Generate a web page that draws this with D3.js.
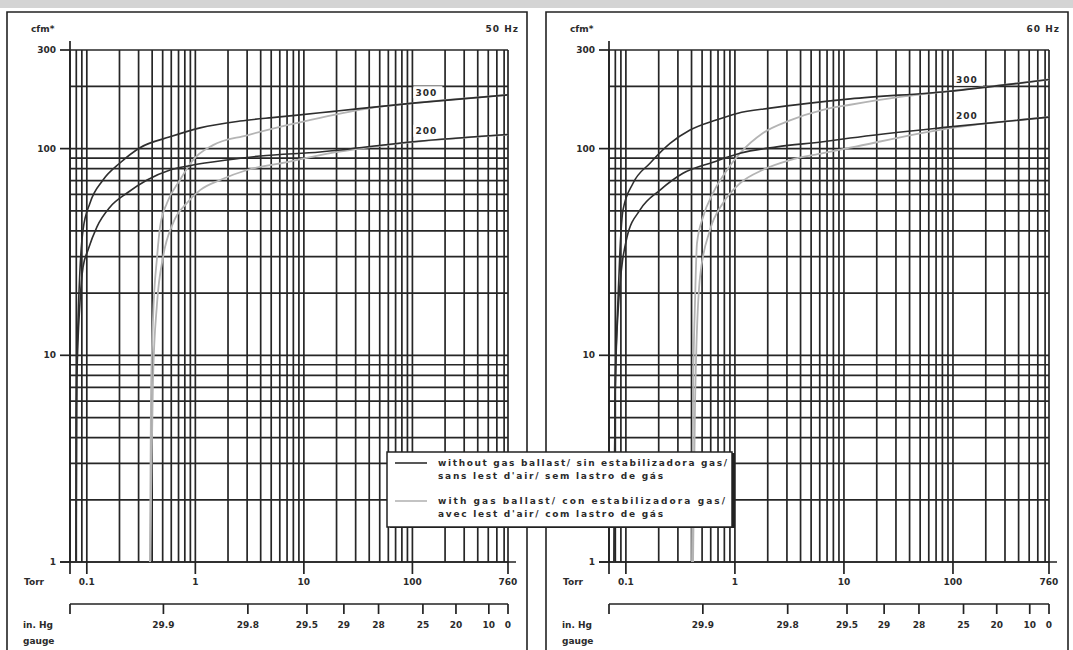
<!DOCTYPE html>
<html>
<head>
<meta charset="utf-8">
<script src="https://cdn.jsdelivr.net/npm/d3@7"></script>
<style>
    body { margin: 0; background: #fff; }
    svg text { font-family: "DejaVu Sans", sans-serif; font-weight: bold; font-size: 9px; fill: #2b2b2b; }
</style>
</head>
<body>
<div id="chart"></div>
<script>
// pumping speed curves, 50 Hz and 60 Hz
//=======================================

// axis ticks / labels
var torrTicks = [0.1, 1, 10, 100, 760];
var torrTickLabels = ["0.1", "1", "10", "100", "760"];
var cfmTicks = [1, 10, 100, 300];
var cfmTickLabels = ["1", "10", "100", "300"];
var gaugeTicks = [29.9, 29.8, 29.5, 29, 28, 25, 20, 10, 0];
var gaugeTickLabels = ["29.9", "29.8", "29.5", "29", "28", "25", "20", "10", "0"];

// grid lines
var torrGrid = [0.07, 0.08, 0.09, 0.1, 0.2, 0.3, 0.4, 0.5, 0.6, 0.7, 0.8, 0.9,
    1, 2, 3, 4, 5, 6, 7, 8, 9, 10, 20, 30, 40, 50, 60, 70, 80, 90,
    100, 200, 300, 400, 500, 600, 700, 760];
var cfmGrid = [1, 2, 3, 4, 5, 6, 7, 8, 9, 10, 20, 30, 40, 50, 60, 70, 80, 90, 100, 200, 300];

var modelNames = ["300", "200"];
var legendText = [
    ["without gas ballast/ sin estabilizadora gas/", "sans lest d'air/ sem lastro de gás"],
    ["with gas ballast/ con estabilizadora gas/", "avec lest d'air/ com lastro de gás"]
];

// [Torr, cfm]
var noBallast300_50 = [[0.0795, 1], [0.0797, 5], [0.083, 14.8], [0.0865, 25.9], [0.0923, 40.4], [0.107, 54.6],
    [0.141, 70.5], [0.202, 85.2], [0.309, 101], [0.585, 114], [1.105, 126], [2.58, 136], [5.66, 142],
    [14.1, 149], [20.2, 152], [101.5, 166], [760, 182]];
var noBallast200_50 = [[0.0795, 1], [0.081, 7.6], [0.0865, 18], [0.0923, 26.7], [0.1026, 32.3], [0.124, 41.8],
    [0.164, 52.2], [0.235, 61], [0.359, 70.5], [0.585, 78.8], [0.952, 83.3], [1.96, 88.1], [3.95, 92.1],
    [14.1, 96.3], [101.5, 108], [760, 117]];
var ballast300_50 = [[0.382, 1], [0.39, 6], [0.407, 14.8], [0.444, 29.9], [0.473, 41.8], [0.548, 54.6],
    [0.722, 70.5], [0.952, 88.1], [1.456, 104], [3.0, 116], [7.0, 130], [14.1, 141], [45, 158.5],
    [101.5, 166], [760, 182]];
var ballast200_50 = [[0.382, 1], [0.407, 7.6], [0.444, 17.9], [0.504, 29.9], [0.623, 43.6], [0.838, 54.6],
    [1.105, 63], [1.69, 70.5], [3.0, 78.8], [7.0, 86.1], [14.1, 93.1], [77, 106], [760, 117]];

var noBallast300_60 = [[0.0778, 1], [0.0795, 6], [0.0846, 18.5], [0.0883, 32.3], [0.0941, 50.5], [0.1163, 68],
    [0.1664, 85], [0.254, 106], [0.3875, 123], [0.685, 138], [1.046, 148], [2.1, 157], [4.89, 166],
    [11.4, 174], [88.3, 189], [760, 216]];
var noBallast200_60 = [[0.0778, 1], [0.0795, 6], [0.0846, 16], [0.1024, 37.3], [0.1348, 50.5], [0.2056, 63],
    [0.334, 76], [0.63, 86], [1.114, 95], [2.43, 102], [6.43, 108], [11.4, 112.5], [88.3, 127], [760, 142]];
var ballast300_60 = [[0.404, 1], [0.413, 6], [0.431, 18.5], [0.449, 34.9], [0.51, 46.7], [0.63, 61],
    [0.846, 78.8], [1.114, 95], [1.811, 119], [3.2, 137], [6.43, 154], [11.4, 163], [32.7, 178],
    [88.3, 189], [760, 216]];
var ballast200_60 = [[0.413, 1], [0.431, 6], [0.4785, 23.9], [0.591, 40.4], [0.778, 54.6], [1.114, 68],
    [1.811, 79], [3.2, 88], [6.43, 95], [11.4, 101], [88.3, 125], [760, 142]];

// in. Hg gauge -> Torr absolute
function gaugeToTorr(g) {
    return (29.92 - g) * 25.4;
}

// log interpolation of a curve at a given pressure
function valueAt(values, t) {
    for (var i = 0; i < values.length - 1; i++) {
        var a = values[i], b = values[i + 1];
        if (t >= a[0] && t <= b[0]) {
            var f = (Math.log(t) - Math.log(a[0])) / (Math.log(b[0]) - Math.log(a[0]));
            return Math.exp(Math.log(a[1]) + f * (Math.log(b[1]) - Math.log(a[1])));
        }
    }
    return values[values.length - 1][1];
}

var svgWidth = 1073;
var svgHeight = 650;

var svg = d3.select("#chart")
    .append("svg")
    .attr("width", svgWidth)
    .attr("height", svgHeight);

// grey strip on top
svg.append("rect")
    .attr("x", 0).attr("y", 0)
    .attr("width", svgWidth).attr("height", 8)
    .attr("fill", "#d4d4d4");

var panels = [
    {
        frameLeft: 7, frameRight: 527, plotLeft: 70, plotRight: 508, hz: "50 Hz",
        curves: [noBallast300_50, noBallast200_50, ballast300_50, ballast200_50]
    },
    {
        frameLeft: 546, frameRight: 1068, plotLeft: 609, plotRight: 1049, hz: "60 Hz",
        curves: [noBallast300_60, noBallast200_60, ballast300_60, ballast200_60]
    }
];

var plotTop = 50;
var plotBottom = 562;
var gaugeY = 604;

panels.forEach(function (p) {

    var x = d3.scaleLog().domain([0.07, 760]).range([p.plotLeft, p.plotRight]);
    var y = d3.scaleLog().domain([1, 300]).range([plotBottom, plotTop]);

    var g = svg.append("g");

    // frame
    g.append("path")
        .attr("d", `M${p.frameLeft},${svgHeight + 5}V12H${p.frameRight}V${svgHeight + 5}`)
        .attr("fill", "none")
        .attr("stroke", "#222")
        .attr("stroke-width", 1.6);

    g.append("text").attr("x", p.frameLeft + 24).attr("y", 32).text("cfm*");
    g.append("text").attr("x", p.frameRight - 8).attr("y", 32)
        .attr("text-anchor", "end").attr("letter-spacing", "1px").text(p.hz);

    // grid
    var grid = g.append("g")
        .attr("stroke", "#262626")
        .attr("stroke-width", 1.7);

    grid.selectAll("line.v")
        .data(torrGrid)
        .enter()
        .append("line")
        .attr("x1", d => x(d)).attr("x2", d => x(d))
        .attr("y1", plotTop).attr("y2", plotBottom);

    grid.selectAll("line.h")
        .data(cfmGrid)
        .enter()
        .append("line")
        .attr("x1", p.plotLeft).attr("x2", p.plotRight)
        .attr("y1", d => y(d)).attr("y2", d => y(d));

    // axes
    var axes = g.append("g").attr("stroke", "#222").attr("stroke-width", 1.7);

    axes.append("line")
        .attr("x1", p.plotLeft).attr("x2", p.plotLeft)
        .attr("y1", 41).attr("y2", plotBottom + 12);

    axes.append("line")
        .attr("x1", p.plotLeft - 10).attr("x2", p.plotRight + 8)
        .attr("y1", plotBottom).attr("y2", plotBottom);

    axes.selectAll("line.yt")
        .data(cfmTicks)
        .enter()
        .append("line")
        .attr("x1", p.plotLeft - 10).attr("x2", p.plotLeft)
        .attr("y1", d => y(d)).attr("y2", d => y(d));

    axes.selectAll("line.xt")
        .data(torrTicks)
        .enter()
        .append("line")
        .attr("x1", d => x(d)).attr("x2", d => x(d))
        .attr("y1", plotBottom).attr("y2", plotBottom + 12);

    g.selectAll("text.yl")
        .data(cfmTicks)
        .enter()
        .append("text")
        .attr("x", p.plotLeft - 14)
        .attr("y", d => y(d) + 3)
        .attr("text-anchor", "end")
        .text((d, i) => cfmTickLabels[i]);

    g.selectAll("text.xl")
        .data(torrTicks)
        .enter()
        .append("text")
        .attr("x", d => x(d))
        .attr("y", plotBottom + 23)
        .attr("text-anchor", "middle")
        .text((d, i) => torrTickLabels[i]);

    g.append("text").attr("x", p.frameLeft + 17).attr("y", plotBottom + 23).text("Torr");

    // in. Hg gauge axis
    axes.append("line")
        .attr("x1", p.plotLeft).attr("x2", p.plotRight)
        .attr("y1", gaugeY).attr("y2", gaugeY);

    axes.selectAll("line.gt")
        .data([0.07].concat(gaugeTicks.map(gaugeToTorr)))
        .enter()
        .append("line")
        .attr("x1", d => x(d)).attr("x2", d => x(d))
        .attr("y1", gaugeY).attr("y2", gaugeY + 10);

    g.selectAll("text.gl")
        .data(gaugeTicks)
        .enter()
        .append("text")
        .attr("x", d => x(gaugeToTorr(d)))
        .attr("y", gaugeY + 24)
        .attr("text-anchor", "middle")
        .text((d, i) => gaugeTickLabels[i]);

    g.append("text").attr("x", p.frameLeft + 16).attr("y", gaugeY + 24).text("in. Hg");
    g.append("text").attr("x", p.frameLeft + 16).attr("y", gaugeY + 40).text("gauge");

    // curves
    var line = d3.line()
        .x(d => x(d[0]))
        .y(d => y(d[1]))
        .curve(d3.curveMonotoneX);

    var styles = [
        { stroke: "#2e2e2e", width: 1.6 },
        { stroke: "#2e2e2e", width: 1.6 },
        { stroke: "#b4b4b4", width: 1.8 },
        { stroke: "#b4b4b4", width: 1.8 }
    ];

    // gas ballast curves first, then the dark ones over them
    [2, 3, 0, 1].forEach(function (k) {
        g.append("path")
            .attr("d", line(p.curves[k]))
            .attr("fill", "none")
            .attr("stroke", styles[k].stroke)
            .attr("stroke-width", styles[k].width);
    });

    // model labels at 100 Torr
    modelNames.forEach(function (name, k) {
        var lx = x(100) + 1;
        var ly = y(valueAt(p.curves[k], 100)) - 11;
        g.append("rect")
            .attr("x", lx).attr("y", ly - 6)
            .attr("width", 29).attr("height", 12)
            .attr("fill", "#fff");
        g.append("text")
            .attr("x", lx + 2).attr("y", ly + 3.5)
            .attr("letter-spacing", "1px")
            .text(name);
    });
});

// legend
var legend = svg.append("g");

legend.append("rect")
    .attr("x", 390).attr("y", 453)
    .attr("width", 345).attr("height", 75)
    .attr("fill", "#222");

legend.append("rect")
    .attr("x", 387).attr("y", 452)
    .attr("width", 345).attr("height", 75)
    .attr("fill", "#fff")
    .attr("stroke", "#222")
    .attr("stroke-width", 1.5);

var legendColors = ["#2e2e2e", "#b4b4b4"];
var legendRows = [463, 501];
var lineLengths = [[289, 225], [287, 225]];

legendText.forEach(function (rows, i) {
    legend.append("line")
        .attr("x1", 395).attr("x2", 427)
        .attr("y1", legendRows[i]).attr("y2", legendRows[i])
        .attr("stroke", legendColors[i])
        .attr("stroke-width", 1.6);
    rows.forEach(function (t, j) {
        legend.append("text")
            .attr("x", 438)
            .attr("y", legendRows[i] + 3 + j * 13)
            .attr("textLength", lineLengths[i][j])
            .text(t);
    });
});
</script>
</body>
</html>
